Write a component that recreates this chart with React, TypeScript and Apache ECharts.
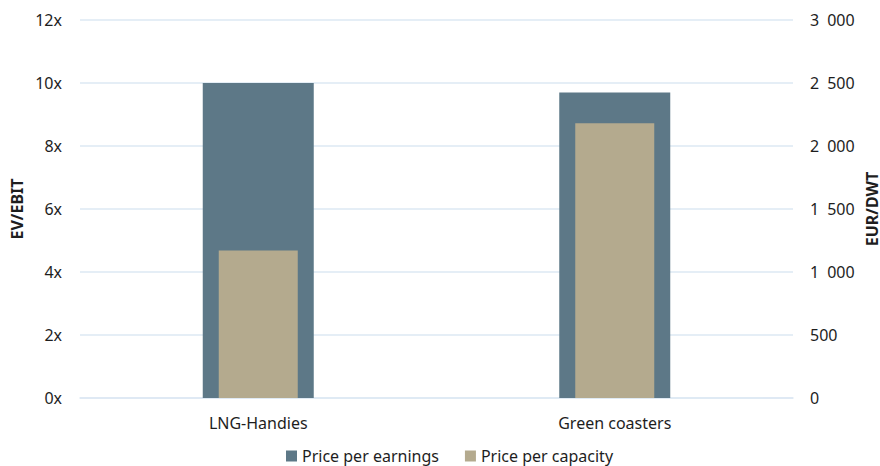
import React, { useEffect, useRef } from "react";
import * as echarts from "echarts";

// Segments and their valuation metrics
const categories = ["LNG-Handies", "Green coasters"];
const priceEarnings = [10.0, 9.7]; // EV/EBIT multiple
const priceCapacity = [1170, 2180]; // EUR per DWT
const leftTicks = { min: 0, max: 12, interval: 2 };
const rightTicks = { min: 0, max: 3000, interval: 500 };

const FONT = "'Noto Sans', 'Open Sans', sans-serif";
const DARK = "#5d7887";
const TAN = "#b4aa8e";
const GRID = "#dde8f3";
const TEXT = "#1e1e1e";

const fmtThousands = (v: number) => {
  const s = String(Math.round(v));
  return s.length > 3 ? s.slice(0, -3) + "\u2002" + s.slice(-3) : s;
};

export default function App() {
  const ref = useRef<HTMLDivElement>(null);

  useEffect(() => {
    if (!ref.current) return;
    const chart = echarts.init(ref.current, undefined, { renderer: "svg" });
    chart.setOption({
      animation: false,
      textStyle: { fontFamily: FONT },
      grid: {
        left: 80,
        right: 87,
        top: 20,
        bottom: 68,
        containLabel: false,
        outerBoundsMode: "none",
      },
      legend: {
        bottom: -3,
        left: 281,
        itemWidth: 11,
        itemHeight: 11,
        itemGap: 26,
        icon: "rect",
        textStyle: { fontSize: 16, color: TEXT, fontFamily: FONT },
        data: ["Price per earnings", "Price per capacity"],
      },
      xAxis: [
        {
          type: "category",
          data: categories,
          axisLine: { lineStyle: { color: GRID, width: 1.5 } },
          axisTick: { show: false },
          axisLabel: { fontSize: 16, color: TEXT, margin: 17, fontFamily: FONT },
        },
        {
          type: "category",
          data: categories,
          show: false,
        },
      ],
      yAxis: [
        {
          type: "value",
          ...leftTicks,
          name: "EV/EBIT",
          nameLocation: "middle",
          nameRotate: 90,
          nameGap: 55,
          nameMoveOverlap: false,
          nameTextStyle: { fontSize: 16, fontWeight: "bold", color: TEXT, fontFamily: FONT },
          axisLabel: {
            fontSize: 16,
            color: TEXT,
            margin: 18,
            formatter: (v: number) => `${v}x`,
          },
          axisLine: { show: false },
          axisTick: { show: false },
          splitLine: { lineStyle: { color: GRID, width: 1.5 } },
        },
        {
          type: "value",
          ...rightTicks,
          position: "right",
          name: "EUR/DWT",
          nameLocation: "middle",
          nameRotate: 90,
          nameGap: 71,
          nameMoveOverlap: false,
          nameTextStyle: { fontSize: 16, fontWeight: "bold", color: TEXT, fontFamily: FONT },
          axisLabel: {
            fontSize: 16,
            color: TEXT,
            margin: 17,
            formatter: fmtThousands,
          },
          axisLine: { show: false },
          axisTick: { show: false },
          splitLine: { show: false },
        },
      ],
      series: [
        {
          name: "Price per earnings",
          type: "bar",
          xAxisIndex: 0,
          yAxisIndex: 0,
          data: priceEarnings,
          barWidth: 111,
          itemStyle: { color: DARK },
        },
        {
          name: "Price per capacity",
          type: "bar",
          xAxisIndex: 1,
          yAxisIndex: 1,
          data: priceCapacity,
          barWidth: 79,
          itemStyle: { color: TAN },
        },
      ],
    });
    return () => chart.dispose();
  }, []);

  return (
    <div
      ref={ref}
      style={{ position: "absolute", left: 0, top: 0, width: 880, height: 466 }}
    />
  );
}
